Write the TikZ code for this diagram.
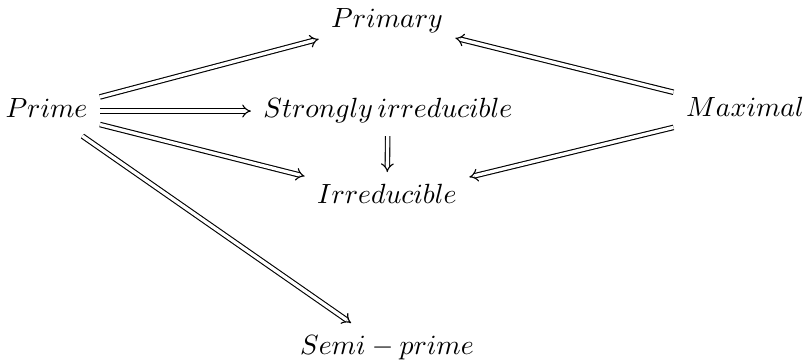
\documentclass[tikz,border=0pt]{standalone}
\usetikzlibrary{arrows.meta}
\begin{document}
\begin{tikzpicture}[x=0.36pt,y=-0.36pt,
  lbl/.style={inner sep=0pt, outer sep=4.5pt, anchor=base, text height=7pt, text depth=2pt},
  imp/.style={double, double distance=1.2pt, line width=0.4pt, -{Implies[]}}]
\useasboundingbox (0,0) rectangle (803,361);
\node[lbl] (prime) at (46.5,118) {$Prime$};
\node[lbl] (primary) at (387,28) {$Primary$};
\node[lbl] (strong) at (388,118) {$Strongly\,irreducible$};
\node[lbl] (max) at (745,117) {$Maximal$};
\node[lbl] (irr) at (387,204) {$Irreducible$};
\node[lbl] (semi) at (387,355) {$Semi-prime$};
\draw[imp] (prime) -- (primary);
\draw[imp] (prime) -- (strong);
\draw[imp] (prime) -- (irr);
\draw[imp] (prime) -- (semi);
\draw[imp] (max) -- (primary);
\draw[imp] (max) -- (irr);
\draw[imp] (strong) -- (irr);
\end{tikzpicture}
\end{document}
